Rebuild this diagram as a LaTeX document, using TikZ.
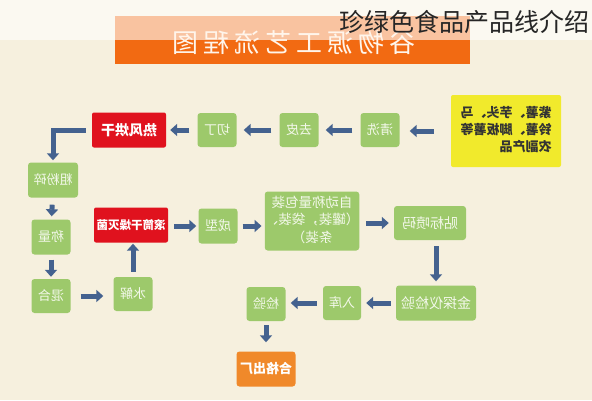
\documentclass[tikz,border=0pt]{standalone}
\usepackage{graphicx}
\usepackage{fontspec}
\setmainfont{Noto Sans CJK SC}
\usetikzlibrary{arrows.meta}
\definecolor{bgcream}{HTML}{F6F0DE}
\definecolor{titleorange}{HTML}{F26A12}
\definecolor{boxgreen}{HTML}{9DC96B}
\definecolor{boxred}{HTML}{E0121E}
\definecolor{boxorange}{HTML}{F0892A}
\definecolor{boxyellow}{HTML}{F1EA2C}
\definecolor{arrowblue}{HTML}{44628F}
\definecolor{greentext}{HTML}{F3F8EA}
\newcommand{\mirtxt}[1]{\reflectbox{#1}}
\tikzset{
  gbox/.style={draw=none, fill=boxgreen, rounded corners=3pt, inner sep=0pt, text=greentext, font=\fontsize{13}{15}\selectfont},
  rbox/.style={draw=none, fill=boxred, rounded corners=2pt, inner sep=0pt, text=white, font=\bfseries\fontsize{14}{16}\selectfont},
  obox/.style={draw=none, fill=boxorange, rounded corners=3pt, inner sep=0pt, text=white, font=\bfseries\fontsize{13}{15}\selectfont},
  ybox/.style={draw=none, fill=boxyellow, rounded corners=2pt, inner sep=0pt, text=black!80, font=\bfseries\fontsize{13}{16}\selectfont},
  flow/.style={draw=arrowblue, line width=5pt, -{Triangle[width=12pt,length=7pt]}},
}
\begin{document}
\begin{tikzpicture}[x=1pt,y=-1pt]
\useasboundingbox (0,0) rectangle (592,400);
\fill[bgcream] (0,0) rectangle (592,400);
% title bar
\fill[titleorange] (115,16) rectangle (470,64);
\fill[white, opacity=0.6] (0,0) rectangle (592,40);
\node[text=white!92!orange, font=\fontsize{26}{28}\selectfont, inner sep=0pt] (title) at (294,43)
  {\mirtxt{谷\hspace{5pt}物\hspace{5pt}源\hspace{5pt}工\hspace{5pt}艺\hspace{5pt}流\hspace{5pt}程\hspace{5pt}图}};
\node[anchor=east, text=black!85, font=\fontsize{25}{27}\selectfont, inner sep=0pt] (overlay) at (590,22) {珍绿色食品产品线介绍};
% nodes
\node[ybox, minimum width=110pt, minimum height=72pt] (src) at (506,131)
  {\mirtxt{\begin{tabular}{@{}l@{}}紫薯、芋头、马\\[1pt]铃薯、脚板薯等\\[1pt]农副产品\end{tabular}}};
\node[gbox, minimum width=39pt, minimum height=34pt] (qingxi) at (380,130) {\mirtxt{清洗}};
\node[gbox, minimum width=39pt, minimum height=34pt] (qupi) at (299,130) {\mirtxt{去皮}};
\node[gbox, minimum width=39pt, minimum height=34pt] (qieding) at (217,130) {\mirtxt{切丁}};
\node[rbox, minimum width=74pt, minimum height=35pt] (honggan) at (129,130) {\mirtxt{热风烘干}};
\node[gbox, minimum width=50pt, minimum height=35pt] (fensui) at (53,180) {\mirtxt{粗粉碎}};
\node[gbox, minimum width=39pt, minimum height=35pt] (chengliang) at (51,237) {\mirtxt{称量}};
\node[gbox, minimum width=39pt, minimum height=34pt] (hunhe) at (51,296) {\mirtxt{混合}};
\node[gbox, minimum width=39pt, minimum height=34pt] (shuijie) at (133,294) {\mirtxt{水解}};
\node[rbox, minimum width=74pt, minimum height=35pt, font=\bfseries\fontsize{11.5}{13}\selectfont] (gantong) at (131,225) {\mirtxt{滚筒干燥灭菌}};
\node[gbox, minimum width=39pt, minimum height=35pt] (chengxing) at (218,226) {\mirtxt{成型}};
\node[gbox, minimum width=93pt, minimum height=59pt, font=\fontsize{13.5}{17.5}\selectfont] (baozhuang) at (312,221)
  {\mirtxt{\begin{tabular}{@{}c@{}}自动称量包装\\（罐装，袋装、\\条装）\end{tabular}}};
\node[gbox, minimum width=72pt, minimum height=34pt, font=\fontsize{14}{16}\selectfont] (tiebiao) at (430,223) {\mirtxt{贴标喷码}};
\node[gbox, minimum width=80pt, minimum height=35pt, font=\fontsize{14}{16}\selectfont] (jintan) at (436,303) {\mirtxt{金探仪检验}};
\node[gbox, minimum width=38pt, minimum height=34pt] (ruku) at (342,303) {\mirtxt{入库}};
\node[gbox, minimum width=39pt, minimum height=34pt] (jianyan) at (266,304) {\mirtxt{检验}};
\node[obox, minimum width=59pt, minimum height=35pt] (hege) at (266,369) {\mirtxt{合格出厂}};
% connectors
\draw[flow, shorten >=10pt, shorten <=17pt] (src.west) -- (qingxi.east |- src.west);
\draw[flow, shorten >=7pt, shorten <=8pt] (qingxi) -- (qupi);
\draw[flow, shorten >=7pt, shorten <=8pt] (qupi) -- (qieding);
\draw[flow, shorten >=4pt, shorten <=8pt] (qieding) -- (honggan);
\draw[flow, shorten >=2pt, shorten <=6pt] (honggan.west) -| (fensui.north);
\draw[flow, shorten >=3pt, shorten <=7pt] (fensui) -- (chengliang);
\draw[flow, shorten >=2pt, shorten <=5pt] (chengliang) -- (hunhe);
\draw[flow, shorten >=10pt, shorten <=10pt] (hunhe) -- (hunhe -| shuijie.west);
\draw[flow, shorten >=1pt, shorten <=5pt] (shuijie) -- (gantong.south -| shuijie.north);
\draw[flow, shorten >=2pt, shorten <=6pt] (gantong.east |- chengxing.west) -- (chengxing.west);
\draw[flow, shorten >=3pt, shorten <=5pt] (chengxing) -- (chengxing -| baozhuang.west);
\draw[flow, shorten >=5pt, shorten <=7pt] (baozhuang.east |- tiebiao.west) -- (tiebiao.west);
\draw[flow, shorten >=4pt, shorten <=6pt] (tiebiao.south -| jintan.north) -- (jintan.north);
\draw[flow, shorten >=5pt, shorten <=5pt] (jintan) -- (ruku);
\draw[flow, shorten >=5pt, shorten <=6pt] (ruku) -- (ruku -| jianyan.east);
\draw[flow, shorten >=9pt, shorten <=4pt] (jianyan) -- (hege);
\end{tikzpicture}
\end{document}
